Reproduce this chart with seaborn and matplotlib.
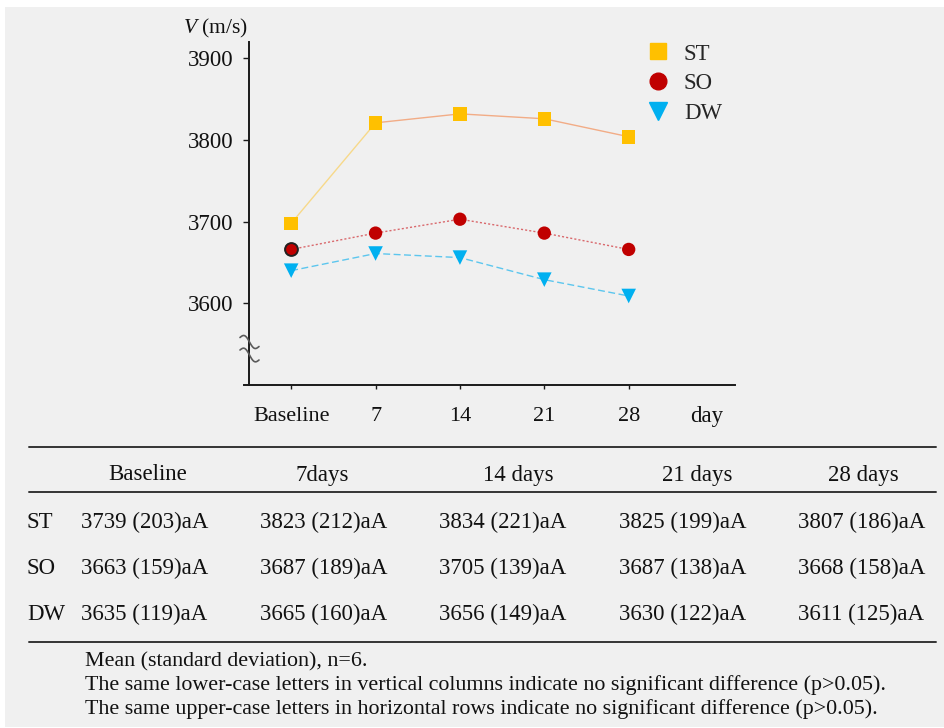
import numpy as np
import matplotlib
matplotlib.use("Agg")
import matplotlib.pyplot as plt
from matplotlib.lines import Line2D
from matplotlib.patches import Rectangle
import seaborn as sns

# ---------------- data ----------------
day_labels = ["Baseline", "7", "14", "21", "28"]
st_vals = [3698, 3821, 3832, 3826, 3804]
so_vals = [3666, 3686, 3703, 3686, 3666]
dw_vals = [3640, 3661, 3656, 3629, 3609]
groups = ["ST", "SO", "DW"]

table_headers = ["Baseline", "7days", "14 days", "21 days", "28 days"]
st_mean = [3739, 3823, 3834, 3825, 3807]
st_sd = [203, 212, 221, 199, 186]
so_mean = [3663, 3687, 3705, 3687, 3668]
so_sd = [159, 189, 139, 138, 158]
dw_mean = [3635, 3665, 3656, 3630, 3611]
dw_sd = [119, 160, 149, 122, 125]
letters = ["aA", "aA", "aA", "aA", "aA"]
notes = [
    "Mean (standard deviation), n=6.",
    "The same lower-case letters in vertical columns indicate no significant difference (p>0.05).",
    "The same upper-case letters in horizontal rows indicate no significant difference (p>0.05).",
]

# ---------------- style ----------------
sns.set_theme(style="white")
plt.rcParams["font.family"] = ["Liberation Serif", "DejaVu Serif"]
plt.rcParams["mathtext.fontset"] = "custom"
plt.rcParams["mathtext.it"] = "Liberation Serif:italic"
plt.rcParams["mathtext.rm"] = "Liberation Serif"

W, H = 944, 728
fig = plt.figure(figsize=(W / 100, H / 100), dpi=100, facecolor="white")
fig.add_artist(Rectangle((5 / W, 1 / H), 1 - 5 / W, 1 - 8 / H, transform=fig.transFigure,
                         facecolor="#F0F0F0", edgecolor="none", zorder=-10))

def fx(px):
    return px / W

def fy(py):
    return 1 - py / H

ax = fig.add_axes([fx(249), fy(385), (735 - 249) / W, (385 - 42) / H])
ax.set_facecolor("none")

xpos = np.arange(len(day_labels))

c_st, c_so, c_dw = "#FFC000", "#C00000", "#00B0F0"

# lines
sns.lineplot(x=xpos[:2], y=st_vals[:2], ax=ax, color="#F7D98A", lw=1.0, zorder=2)
sns.lineplot(x=xpos[1:], y=st_vals[1:], ax=ax, color="#F2AC86", lw=1.0, zorder=2)
sns.lineplot(x=xpos, y=so_vals, ax=ax, color="#D9686C", lw=1.0, zorder=2,
             linestyle=(0, (1.5, 1.5)))
sns.lineplot(x=xpos, y=dw_vals, ax=ax, color="#5CC6EE", lw=1.0, zorder=2,
             linestyle=(0, (5, 2.5)))

# markers
sns.scatterplot(x=xpos, y=st_vals, ax=ax, marker="s", s=95, color=c_st,
                edgecolor="none", zorder=3, legend=False)
sns.scatterplot(x=xpos, y=so_vals, ax=ax, marker="o", s=92, color=c_so,
                edgecolor="none", zorder=3, legend=False)
sns.scatterplot(x=xpos[:1], y=so_vals[:1], ax=ax, marker="o", s=85, color=c_so,
                edgecolor="#222222", linewidth=1.4, zorder=4, legend=False)
sns.scatterplot(x=xpos, y=dw_vals, ax=ax, marker="v", s=110, color=c_dw,
                edgecolor="none", zorder=3, legend=False)

ax.set_xlim(-0.5, 5.26)
ax.set_ylim(3500, 3920)
ax.set_xticks(xpos, day_labels)
ax.set_yticks([3600, 3700, 3800, 3900])
ax.set_xlabel("")
ax.set_ylabel("")
for s in ["top", "right"]:
    ax.spines[s].set_visible(False)
for s in ["left", "bottom"]:
    ax.spines[s].set_linewidth(1.4)
    ax.spines[s].set_color("#1a1a1a")
ax.spines["bottom"].set_bounds(-0.56, 5.26)
ax.tick_params(axis="y", direction="out", length=4.5, width=1, color="#1a1a1a",
               labelsize=16.5, pad=7, labelcolor="#111111", left=True)
ax.tick_params(axis="x", direction="out", length=3, width=1, color="#1a1a1a",
               labelsize=16, pad=13, labelcolor="#111111", bottom=True)

# axis break marks
t = np.linspace(0, 1, 50)
for y0, y1 in [(337.5, 346.5), (350.0, 360.0)]:
    px = 240.0 + 19 * t
    py = y0 + (y1 - y0) * t - 4.0 * np.sin(2 * np.pi * t)
    ax.plot((px - 249) / 486, (385 - py) / 343, transform=ax.transAxes,
            color="#5a5a5a", lw=1.2, clip_on=False, zorder=5)

# labels
fig.text(fx(183), fy(33), r"$\mathit{V}$ (m/s)", fontsize=15.5, ha="left",
         va="baseline", color="#111111")
fig.text(fx(707), fy(422), "day", fontsize=16.5, ha="center", va="baseline",
         color="#111111")

# legend
handles = [
    Line2D([], [], marker="s", color=c_st, linestyle="none", markersize=12),
    Line2D([], [], marker="o", color=c_so, linestyle="none", markersize=12),
    Line2D([], [], marker="v", color=c_dw, linestyle="none", markersize=12.5),
]
fig.legend(handles, groups, loc="upper left", bbox_to_anchor=(fx(630), fy(32)),
           frameon=False, fontsize=16.5, handletextpad=0.45, labelspacing=0.38,
           borderpad=0, handlelength=1.4)

# table
for py in [447, 492, 642]:
    fig.add_artist(Line2D([fx(29), fx(936)], [fy(py), fy(py)], transform=fig.transFigure,
                          color="#333333", lw=1.4))
header_x = [148, 322, 518, 697, 863]
for hx, h in zip(header_x, table_headers):
    fig.text(fx(hx), fy(475), h, fontsize=16.5, ha="center", va="center", color="#111111")

cell_x = [81, 260, 439, 619, 798]
rows = [("ST", st_mean, st_sd, 522), ("SO", so_mean, so_sd, 568), ("DW", dw_mean, dw_sd, 614)]
for lab, means, sds, ry in rows:
    fig.text(fx(27), fy(ry), lab, fontsize=16.5, ha="left", va="center", color="#111111")
    for cx, m, sd, lt in zip(cell_x, means, sds, letters):
        fig.text(fx(cx), fy(ry), f"{m} ({sd}){lt}", fontsize=16.5, ha="left",
                 va="center", color="#111111")

for i, line in enumerate(notes):
    fig.text(fx(85), fy(662 + 23.5 * i), line, fontsize=15.8, ha="left", va="center",
             color="#111111")

fig.savefig("out.png", dpi=100, facecolor="white")
